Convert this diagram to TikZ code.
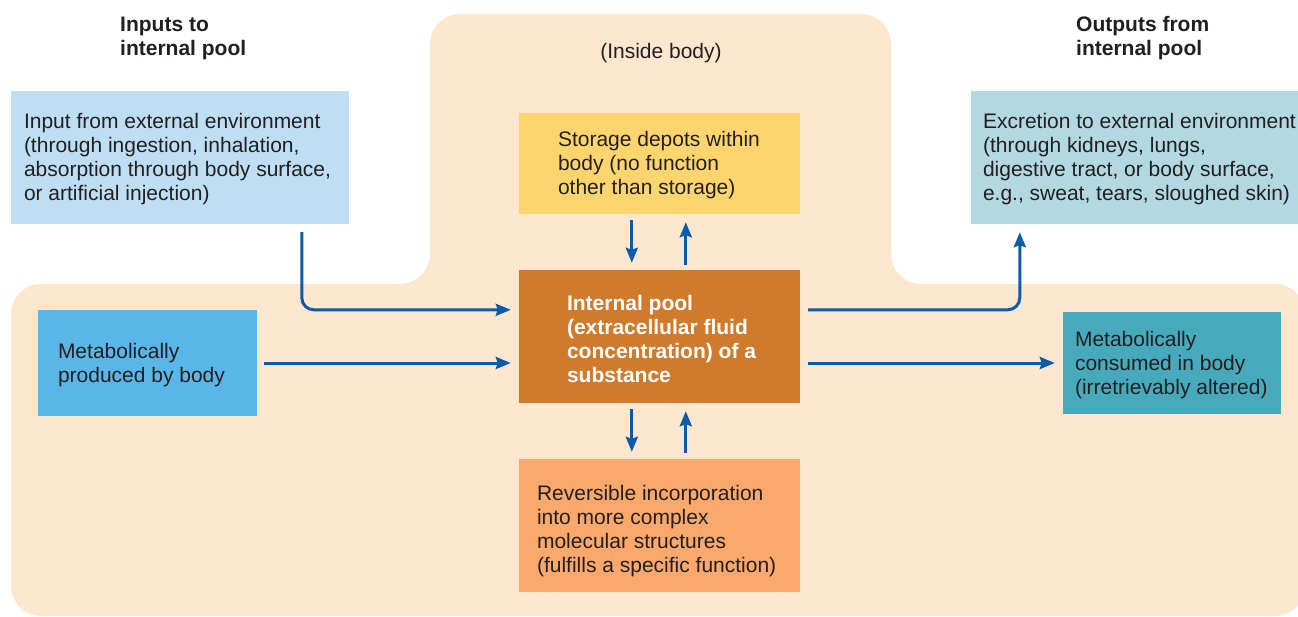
\documentclass[tikz,border=0pt]{standalone}
\usepackage{fontspec}
\setmainfont{Liberation Sans}
\usetikzlibrary{arrows.meta,calc}
\definecolor{bgpeach}{HTML}{FDE7CE}
\definecolor{inpblue}{HTML}{BEDFF3}
\definecolor{prodblue}{HTML}{5AB6E8}
\definecolor{storyellow}{HTML}{FDD56E}
\definecolor{poolorange}{HTML}{D07A2C}
\definecolor{revorange}{HTML}{FBA86D}
\definecolor{excblue}{HTML}{B2D8E1}
\definecolor{consteal}{HTML}{47A9BC}
\definecolor{arrowblue}{HTML}{0A5CAB}
\definecolor{textdark}{HTML}{231F20}
\begin{document}
\begin{tikzpicture}[x=1pt,y=-1pt,
  box/.style={rectangle, inner sep=0pt, draw=none},
  txt/.style={font=\fontsize{21}{24}\selectfont, align=left, inner sep=0pt, anchor=west, text=textdark},
  head/.style={txt, font=\fontsize{21}{24}\selectfont\bfseries},
  arr/.style={draw=arrowblue, line width=3pt, rounded corners=12pt,
    -{Stealth[length=15pt,width=12pt,inset=2pt]}}]
\useasboundingbox (0,0) rectangle (1298,616);
\begin{scope}
  \clip (0,0) rectangle (1298,616);
  \fill[bgpeach, rounded corners=30pt] (11,616) -- (11,284) -- (430,284) -- (430,14)
    -- (891,14) -- (891,284) -- (1305,284) -- (1305,616) -- cycle;
  % boxes
  \node[box, fill=inpblue, minimum width=338pt, minimum height=133pt] (inp) at (180,157.5) {};
  \node[box, fill=prodblue, minimum width=219pt, minimum height=106pt] (prod) at (147.5,363) {};
  \node[box, fill=storyellow, minimum width=281pt, minimum height=101pt] (stor) at (659.5,163.5) {};
  \node[box, fill=poolorange, minimum width=281pt, minimum height=133pt] (pool) at (659.5,336.5) {};
  \node[box, fill=revorange, minimum width=281pt, minimum height=133pt] (rev) at (659.5,525.5) {};
  \node[box, fill=excblue, minimum width=334pt, minimum height=133pt] (exc) at (1138,157.5) {};
  \node[box, fill=consteal, minimum width=218pt, minimum height=102pt] (cons) at (1172,363) {};
\end{scope}
% texts
\node[txt] (inptxt) at ([xshift=13pt,yshift=-2pt]inp.west) {Input from external environment\\(through ingestion, inhalation,\\absorption through body surface,\\or artificial injection)};
\node[txt] (prodtxt) at ([xshift=20pt,yshift=-2pt]prod.west) {Metabolically\\produced by body};
\node[txt] (stortxt) at ([xshift=39pt,yshift=-2pt]stor.west) {Storage depots within\\body (no function\\other than storage)};
\node[head, text=white] (pooltxt) at ([xshift=48pt,yshift=-2pt]pool.west) {Internal pool\\(extracellular fluid\\concentration) of a\\substance};
\node[txt] (revtxt) at ([xshift=18pt,yshift=-6pt]rev.west) {Reversible incorporation\\into more complex\\molecular structures\\(fulfills a specific function)};
\node[txt] (exctxt) at ([xshift=12pt,yshift=-2pt]exc.west) {Excretion to external environment\\(through kidneys, lungs,\\digestive tract, or body surface,\\e.g., sweat, tears, sloughed skin)};
\node[txt] (constxt) at ([xshift=12pt,yshift=-2pt]cons.west) {Metabolically\\consumed in body\\(irretrievably altered)};
\node[head] (inhead) at (120,38) {Inputs to\\internal pool};
\node[head] (outhead) at (1076,38) {Outputs from\\internal pool};
\node[txt, anchor=center] (inside) at (661,53) {(Inside body)};
% arrows
\draw[arr] ($(inp.south west)+(291,8)$) |- ($(pool.north west)+(-8,40)$);
\draw[arr] ($(prod.east)+(7,0)$) -- ($(prod.east -| pool.west)+(-8,0)$);
\draw[arr] ($(pool.north east)+(8,40)$) -| ($(exc.south west)+(49,8)$);
\draw[arr] ($(pool.east |- cons.west)+(8,0)$) -- ($(cons.west)+(-8,0)$);
\draw[arr] ($(stor.south west)+(113,6)$) -- ($(pool.north west)+(113,-7)$);
\draw[arr] ($(pool.north west)+(167,-5)$) -- ($(stor.south west)+(167,8)$);
\draw[arr] ($(pool.south west)+(113,6)$) -- ($(rev.north west)+(113,-7)$);
\draw[arr] ($(rev.north west)+(167,-6)$) -- ($(pool.south west)+(167,8)$);
\end{tikzpicture}
\end{document}
